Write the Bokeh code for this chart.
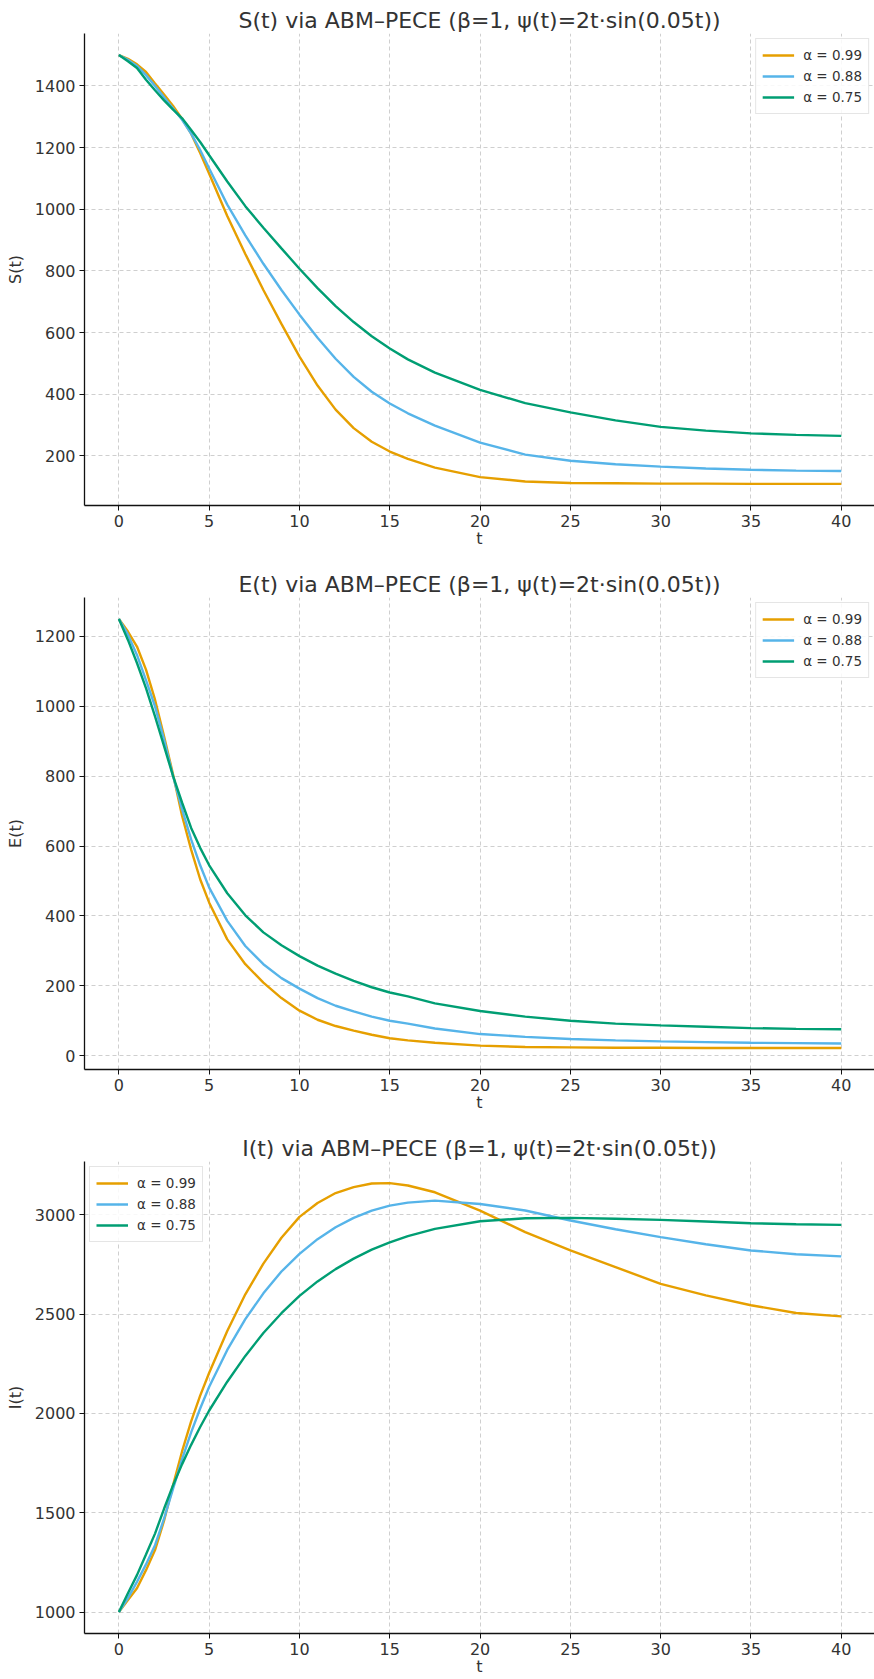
from bokeh.plotting import figure
from bokeh.layouts import column
from bokeh.models import Range1d, FixedTicker, Legend, LegendItem
from bokeh.embed import file_html
from bokeh.resources import INLINE

# ---- data ----
T = [0, 0.5, 1, 1.5, 2, 2.5, 3, 3.5, 4, 4.5, 5, 6, 7, 8, 9, 10, 11, 12, 13, 14, 15, 16,
     17.5, 20, 22.5, 25, 27.5, 30, 32.5, 35, 37.5, 40]

S_099 = [1500, 1488, 1470, 1445, 1408, 1372, 1335, 1293, 1245, 1182, 1115, 978, 855, 738, 628, 522,
         428, 350, 290, 246, 214, 190, 162, 131, 117, 112, 111, 110, 110, 109, 109, 109]
S_088 = [1500, 1485, 1465, 1435, 1400, 1363, 1327, 1290, 1245, 1192, 1132, 1015, 915, 823, 738, 658,
         583, 515, 456, 408, 370, 338, 298, 243, 204, 184, 173, 165, 159, 155, 152, 151]
S_075 = [1500, 1480, 1458, 1420, 1386, 1353, 1323, 1295, 1257, 1218, 1175, 1090, 1010, 940, 873, 807,
         744, 686, 634, 588, 548, 513, 470, 414, 371, 341, 315, 294, 282, 273, 268, 265]

E_099 = [1250, 1214, 1171, 1105, 1019, 914, 805, 686, 590, 505, 438, 333, 262, 209, 165, 129,
         103, 85, 72, 60, 50, 44, 37, 29, 25, 24, 23, 23, 22, 22, 22, 22]
E_088 = [1250, 1205, 1147, 1075, 1000, 905, 800, 705, 619, 545, 481, 386, 314, 262, 222, 192,
         165, 143, 127, 112, 100, 92, 78, 62, 54, 48, 44, 41, 39, 37, 36, 35]
E_075 = [1250, 1190, 1124, 1052, 971, 886, 800, 724, 652, 595, 545, 465, 402, 353, 316, 285,
         258, 235, 214, 196, 181, 170, 150, 128, 112, 100, 92, 87, 83, 79, 77, 76]

I_099 = [1000, 1060, 1120, 1211, 1312, 1460, 1640, 1810, 1960, 2090, 2205, 2415, 2600, 2755, 2885, 2990,
         3060, 3110, 3140, 3158, 3160, 3148, 3114, 3022, 2913, 2821, 2737, 2653, 2595, 2545, 2506, 2489]
I_088 = [1000, 1070, 1152, 1240, 1337, 1470, 1622, 1770, 1905, 2025, 2135, 2320, 2475, 2605, 2715, 2804,
         2878, 2938, 2985, 3022, 3047, 3062, 3072, 3055, 3022, 2972, 2928, 2888, 2852, 2821, 2802, 2791]
I_075 = [1000, 1095, 1186, 1290, 1395, 1520, 1639, 1745, 1842, 1932, 2015, 2160, 2290, 2405, 2505, 2592,
         2665, 2727, 2780, 2825, 2862, 2893, 2930, 2968, 2983, 2985, 2981, 2975, 2967, 2958, 2953, 2950]

ALPHA_LABELS = ["α = 0.99", "α = 0.88", "α = 0.75"]
COLORS = ["#E69F00", "#56B4E9", "#009E73"]
X_TICKS = [0, 5, 10, 15, 20, 25, 30, 35, 40]

TITLE_SUFFIX = " via ABM–PECE (β=1, ψ(t)=2t·sin(0.05t))"

FONT = "DejaVu Sans"
TXT = "#333333"


def make_fig(name, series, yrange, yticks, legend_loc, top, bottom):
    p = figure(frame_width=790, frame_height=472,
               x_range=Range1d(-1.905, 41.84), y_range=Range1d(*yrange),
               output_backend="svg", toolbar_location=None,
               min_border_left=84, min_border_right=0,
               min_border_top=top, min_border_bottom=bottom,
               title=name + "(t)" + TITLE_SUFFIX)
    p.title.text_font = FONT
    p.title.text_font_size = "22px"
    p.title.text_font_style = "normal"
    p.title.text_color = TXT
    p.title.align = "center"
    p.title.standoff = 2
    p.outline_line_color = None
    p.background_fill_color = "white"

    for ax in (p.xaxis[0], p.yaxis[0]):
        ax.axis_line_color = "#111111"
        ax.axis_line_width = 1.3
        ax.major_tick_line_color = "#111111"
        ax.major_tick_out = 5
        ax.major_tick_in = 0
        ax.minor_tick_out = 0
        ax.minor_tick_in = 0
        ax.major_label_text_font = FONT
        ax.major_label_text_font_size = "16px"
        ax.major_label_text_color = TXT
        ax.axis_label_text_font = FONT
        ax.axis_label_text_font_size = "16px"
        ax.axis_label_text_font_style = "normal"
        ax.axis_label_text_color = TXT

    p.xaxis.ticker = FixedTicker(ticks=X_TICKS)
    p.yaxis.ticker = FixedTicker(ticks=yticks)
    p.xaxis.axis_label = "t"
    p.xaxis.major_label_standoff = 4
    p.xaxis.axis_label_standoff = -1
    p.yaxis.major_label_standoff = 4
    p.yaxis.axis_label = name + "(t)"
    p.yaxis.axis_label_standoff = 7

    for g in (p.xgrid[0], p.ygrid[0]):
        g.grid_line_color = "#cfcfcf"
        g.grid_line_dash = "4 3"
        g.grid_line_width = 1

    items = []
    for vals, col, lab in zip(series, COLORS, ALPHA_LABELS):
        r = p.line(T, vals, line_color=col, line_width=2.4)
        items.append(LegendItem(label=lab, renderers=[r]))
    leg = Legend(items=items, location=legend_loc)
    leg.label_text_font = FONT
    leg.label_text_font_size = "13.5px"
    leg.label_text_color = TXT
    leg.margin = 5
    leg.padding = 6
    leg.spacing = 1
    leg.glyph_width = 32
    leg.glyph_height = 20
    leg.label_height = 20
    leg.label_standoff = 9
    leg.border_line_color = "#cccccc"
    leg.border_line_width = 1
    leg.background_fill_alpha = 0.85
    p.add_layout(leg)
    return p


p1 = make_fig("S", [S_099, S_088, S_075], (39, 1570), [200, 400, 600, 800, 1000, 1200, 1400],
              "top_right", 33, 58)
p2 = make_fig("E", [E_099, E_088, E_075], (-39.4, 1311.4), [0, 200, 400, 600, 800, 1000, 1200],
              "top_right", 34, 58)
p3 = make_fig("I", [I_099, I_088, I_075], (892, 3269), [1000, 1500, 2000, 2500, 3000],
              "top_left", 34, 36)

layout = column(p1, p2, p3, spacing=0)
open("out.html", "w").write(file_html(layout, INLINE))
